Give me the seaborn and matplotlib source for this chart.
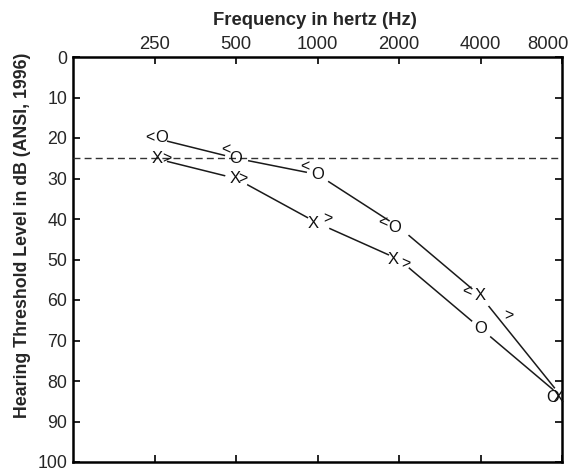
import matplotlib
matplotlib.use('Agg')
import matplotlib.pyplot as plt
from matplotlib.ticker import NullLocator
from matplotlib.transforms import ScaledTranslation
import seaborn as sns

# audiogram values (dB HL)
freqs = [250, 500, 1000, 2000, 4000, 8000]
freq_labels = ['250', '500', '1000', '2000', '4000', '8000']

# the two connecting lines as drawn
line_a = [20, 25, 29, 42, 59, 84]
line_b = [25, 30, 41, 50, 67, 84]

# air conduction symbols
o_air = [20, 25, 29, 42, 67, 84]
x_air = [25, 30, 41, 50, 59, 84]

# bone conduction symbols (frequency, dB, glyph)
bone_freqs = [250, 500, 1000, 2000, 4000, 250, 500, 1000, 2000, 4000]
bone_db = [20, 23, 27, 41, 58, 25, 30, 40, 51, 64]
bone_sym = ['<', '<', '<', '<', '<', '>', '>', '>', '>', '>']

normal_limit = 25

# horizontal nudges of the glyphs, in pixels
o_dx = [7, 0, 0, -4, 0, -9]
x_dx = [3, -1, -4, -6, 0, -4]
bone_dx = [-5, -10, -13, -16, -14, 12, 7, 10, 7, 28]

sns.set_style('ticks')
plt.rcParams['font.family'] = ['Liberation Sans', 'DejaVu Sans']

fig = plt.figure(figsize=(5.68, 4.68), dpi=100)
ax = fig.add_axes([73 / 568, 6 / 468, 489 / 568, 405 / 468])

ax.set_xscale('log', base=2)

px = 72 / 100  # pixels -> points

for vals in (line_a, line_b):
    sns.lineplot(x=freqs, y=vals, ax=ax, color='#1a1a1a', linewidth=1.1,
                 marker='o', markersize=17, markerfacecolor='white',
                 markeredgewidth=0, zorder=2, estimator=None, sort=False)

ax.axhline(normal_limit, color='#333333', linewidth=1, linestyle=(0, (5, 3)), zorder=3)

def glyph(f, db, s, dx, size=12):
    ax.annotate(s, xy=(f, db), xytext=(dx * px, 0), textcoords='offset points',
                ha='center', va='center', fontsize=size, color='#111111', zorder=4)

for f, db, dx in zip(freqs, o_air, o_dx):
    glyph(f, db, 'O', dx)
for f, db, dx in zip(freqs, x_air, x_dx):
    glyph(f, db, 'X', dx)
for f, db, s, dx in zip(bone_freqs, bone_db, bone_sym, bone_dx):
    glyph(f, db, s, dx, size=11.5)

ax.set_xlim(125, 8000)
ax.set_ylim(100, 0)
ax.set_xticks(freqs)
ax.set_xticklabels(freq_labels)
ax.xaxis.set_minor_locator(NullLocator())
ax.set_yticks(range(0, 101, 10))

ax.tick_params(which='both', direction='in', top=True, right=True,
               labeltop=True, labelbottom=False, length=5, width=1.2,
               color='black')
ax.tick_params(axis='x', pad=3, labelsize=13.3)
ax.tick_params(axis='y', pad=4, labelsize=12.8)

# last frequency label sits left of its tick so it stays inside the picture
last = ax.get_xticklabels(which='major')[-1]
last.set_transform(last.get_transform() + ScaledTranslation(-14 / 100, 0, fig.dpi_scale_trans))

for sp in ax.spines.values():
    sp.set_linewidth(1.8)
    sp.set_color('black')

ax.xaxis.set_label_position('top')
ax.set_xlabel('Frequency in hertz (Hz)', fontsize=13.3, fontweight='bold')
ax.xaxis.set_label_coords(0.494, 1.079)
ax.set_ylabel('Hearing Threshold Level in dB (ANSI, 1996)', fontsize=12.8,
              fontweight='bold')
ax.yaxis.set_label_coords(-0.086, 0.56)

fig.savefig('out.png', dpi=100)
